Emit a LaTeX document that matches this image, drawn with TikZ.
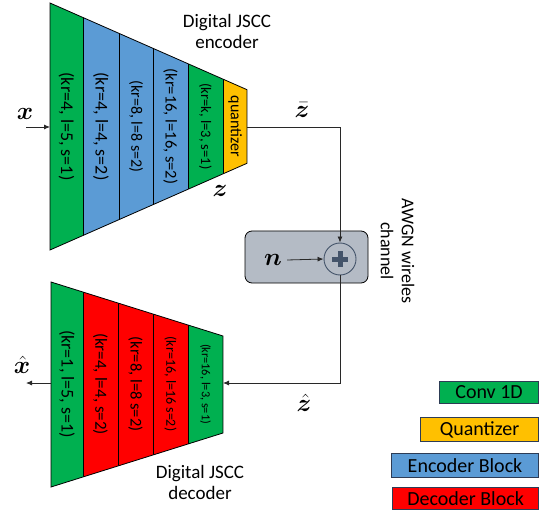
\documentclass[tikz,border=0pt]{standalone}
\usepackage{fontspec}
\setmainfont{Carlito}
\usepackage{bm}
\usetikzlibrary{arrows.meta}
\definecolor{cgreen}{RGB}{0,176,80}
\definecolor{cblue}{RGB}{91,155,213}
\definecolor{cyellow}{RGB}{255,192,0}
\definecolor{cred}{RGB}{255,0,0}
\definecolor{chbox}{RGB}{180,187,197}
\definecolor{slate}{RGB}{68,84,106}
\definecolor{lgbord}{RGB}{45,60,85}
\definecolor{wire}{RGB}{40,40,40}
\begin{document}
\begin{tikzpicture}[x=1pt,y=-1pt,
  conn/.style={draw=wire, line width=0.8pt, -{Latex[length=6pt,width=5pt]}},
  col/.style={rotate=-90, inner sep=0pt, font=\fontsize{#1}{#1}\selectfont},
  edge/.style={draw=black, line width=0.8pt},
  leg/.style={draw=lgbord, line width=0.9pt, anchor=north east, inner sep=0pt,
    font=\fontsize{20}{22}\selectfont},
  mlab/.style={inner sep=1pt, font=\fontsize{23}{25}\selectfont},
  title/.style={align=center, inner sep=0pt, font=\fontsize{19}{21}\selectfont}]
\useasboundingbox (0,0) rectangle (545,510);

% ---------- encoder ----------
\begin{scope}
  \clip (50,3) -- (247,89.7) -- (247,163.3) -- (50,250) -- cycle;
  \fill[cgreen] (50,0) rectangle (83,260);
  \fill[cblue] (83,0) rectangle (188,260);
  \fill[cgreen] (188,0) rectangle (223,260);
  \fill[cyellow] (223,0) rectangle (247,260);
  \foreach \x in {83,119,153,188,223} \draw[edge] (\x,0) -- (\x,260);
\end{scope}
\draw[edge] (50,3) -- (247,89.7) -- (247,163.3) -- (50,250) -- cycle;
\node[col=18] (e1) at (66.5,126.5) {(kr=4, l=5, s=1)};
\node[col=18] (e2) at (101,126.5) {(kr=4, l=4, s=2)};
\node[col=16] (e3) at (136,126.5) {(kr=8, l=8 s=2)};
\node[col=16.5] (e4) at (170.5,126.5) {(kr=16, l=16, s=2)};
\node[col=14.5] (e5) at (205.5,126.5) {(kr=k, l=3, s=1)};
\node[col=16] (e6) at (235,126.5) {quantizer};
\node[title] (enct) at (227,31) {Digital JSCC\\encoder};

\coordinate (xin) at (26,127);
\coordinate (encin) at (50,127);
\coordinate (qout) at (247,127);
\node[mlab] (xlab) at (25,114) {$\bm{x}$};
\draw[conn] (xin) -- (encin);
\node[mlab] (zlab) at (220,191) {$\bm{z}$};
\node[mlab] (zbar) at (302,110) {$\bar{\bm{z}}$};

% ---------- channel ----------
\node[draw=black, fill=chbox, rounded corners=7pt, minimum width=123pt,
  minimum height=52pt, line width=0.8pt] (chan) at (306.5,257) {};
\node[circle, draw=slate, fill=chbox, minimum size=32pt, inner sep=0pt,
  line width=0.9pt] (sum) at (340,259) {};
\draw[slate, line width=5pt] ([xshift=-8pt]sum.center) -- ([xshift=8pt]sum.center);
\draw[slate, line width=5pt] ([yshift=-8pt]sum.center) -- ([yshift=8pt]sum.center);
\node[mlab] (nlab) at (273,260) {$\bm{n}$};
\draw[conn] ([xshift=4pt]nlab.east) -- (sum.west);
\draw[conn] (qout) -| (sum.north);
\node[title, rotate=-90, font=\fontsize{18}{21}\selectfont] (awgn) at (397.5,251) {AWGN wireles\\channel};

% ---------- decoder ----------
\begin{scope}
  \clip (51,282) -- (223,336) -- (223,433) -- (51,487) -- cycle;
  \fill[cgreen] (51,270) rectangle (83,500);
  \fill[cred] (83,270) rectangle (188,500);
  \fill[cgreen] (188,270) rectangle (223,500);
  \foreach \x in {83,118,153,188} \draw[edge] (\x,270) -- (\x,500);
\end{scope}
\draw[edge] (51,282) -- (223,336) -- (223,433) -- (51,487) -- cycle;
\node[col=18] (d1) at (67,384) {(kr=1, l=5, s=1)};
\node[col=17] (d2) at (100.5,384) {(kr=4, l=4, s=2)};
\node[col=16.5] (d3) at (135.5,384) {(kr=8, l=8 s=2)};
\node[col=14] (d4) at (170.5,384) {(kr=16, l=16 s=2)};
\node[col=12.3] (d5) at (205.5,384) {(kr=16, l=3, s=1)};
\node[title] (dect) at (200,482) {Digital JSCC\\decoder};

\coordinate (decin) at (223,383);
\coordinate (decout) at (51,383);
\coordinate (xout) at (26,383);
\draw[conn] (sum.south) |- (decin);
\draw[conn] (decout) -- (xout);
\node[mlab] (xhat) at (22,365) {$\hat{\bm{x}}$};
\node[mlab] (zhat) at (304,403) {$\hat{\bm{z}}$};

% ---------- legend ----------
\node[leg, fill=cgreen, minimum width=99pt, minimum height=22pt] (l1) at (539,381) {Conv 1D};
\node[leg, fill=cyellow, minimum width=118pt, minimum height=24pt] (l2) at (539,417) {Quantizer};
\node[leg, fill=cblue, minimum width=147pt, minimum height=24pt] (l3) at (539,453) {Encoder Block};
\node[leg, fill=cred, minimum width=146pt, minimum height=22pt] (l4) at (539,487) {Decoder Block};
\end{tikzpicture}
\end{document}
